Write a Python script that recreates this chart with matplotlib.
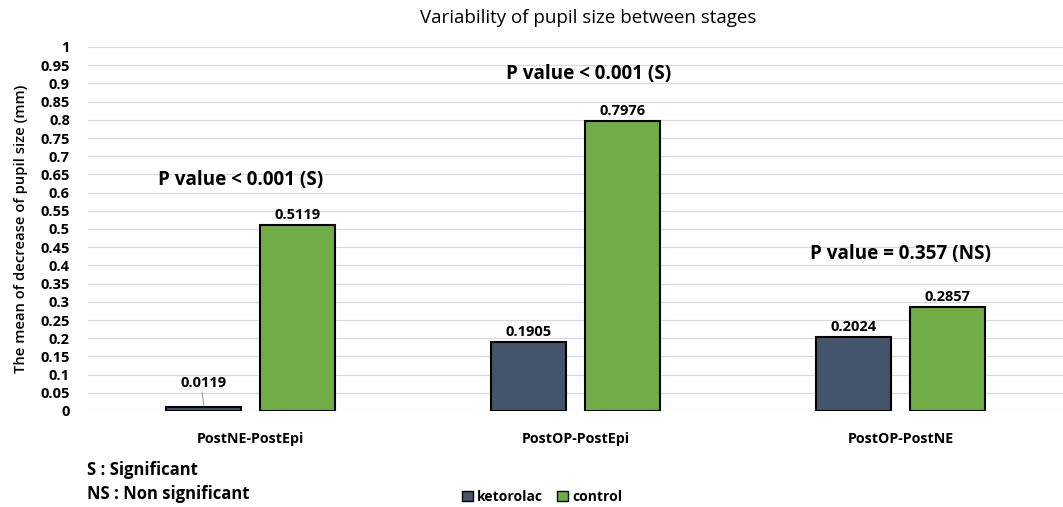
import matplotlib.pyplot as plt
import numpy as np
from matplotlib.patches import Patch

plt.rcParams["font.family"] = ["Open Sans", "DejaVu Sans"]

stages = ["PostNE-PostEpi", "PostOP-PostEpi", "PostOP-PostNE"]
ketorolac = [0.0119, 0.1905, 0.2024]
control = [0.5119, 0.7976, 0.2857]
p_labels = ["P value < 0.001 (S)", "P value < 0.001 (S)", "P value = 0.357 (NS)"]
p_heights = [0.635, 0.925, 0.43]
yticks = [round(v * 0.05, 2) for v in range(21)]

KET_COLOR = "#44546A"
CTRL_COLOR = "#70AD47"

fig = plt.figure(figsize=(10.63, 5.07), dpi=100)
ax = fig.add_axes([88 / 1063, 1 - 411 / 507, 975 / 1063, 364 / 507])

x = np.arange(len(stages))
width = 0.23
off = 0.144

ax.bar(x - off, ketorolac, width, color=KET_COLOR, edgecolor="black", linewidth=1.5, zorder=3)
ax.bar(x + off, control, width, color=CTRL_COLOR, edgecolor="black", linewidth=1.5, zorder=3)

p_shift = [-0.03, 0.04, 0.0]
for i in range(len(stages)):
    if ketorolac[i] < 0.05:
        ax.text(x[i] - off, ketorolac[i] + 0.045, f"{ketorolac[i]:.4f}", ha="center", va="bottom",
                fontsize=10.5, fontweight="bold")
        ax.plot([x[i] - off - 0.005, x[i] - off], [ketorolac[i] + 0.04, ketorolac[i] + 0.005],
                color="#999999", lw=0.7, zorder=4)
    else:
        ax.text(x[i] - off, ketorolac[i] + 0.008, f"{ketorolac[i]:.4f}", ha="center", va="bottom",
                fontsize=10.5, fontweight="bold")
    ax.text(x[i] + off, control[i] + 0.008, f"{control[i]:.4f}", ha="center", va="bottom",
            fontsize=10.5, fontweight="bold")
    ax.text(x[i] + p_shift[i], p_heights[i], p_labels[i], ha="center", va="center",
            fontsize=13.6, fontweight="bold")

ax.set_xlim(-0.5, 2.5)
ax.set_ylim(0, 1)
ax.set_yticks(yticks)
ax.set_yticklabels([f"{v:g}" for v in yticks], fontsize=10.5, fontweight="bold")
ax.set_xticks(x)
ax.set_xticklabels(stages, fontsize=10.3, fontweight="bold")
ax.tick_params(axis="y", length=0, pad=13)
ax.tick_params(axis="x", length=0, pad=15)
ax.grid(axis="y", color="#D9D9D9", linewidth=0.9, zorder=0)
for s in ax.spines.values():
    s.set_visible(False)

ax.set_ylabel("The mean of decrease of pupil size (mm)", fontsize=10.6, fontweight="semibold", labelpad=9)
fig.text(588 / 1063, 1 - 18 / 507, "Variability of pupil size between stages", ha="center", va="center",
         fontsize=13.5, fontweight="medium")

fig.text(87 / 1063, 1 - 470 / 507, "S : Significant", ha="left", va="center", fontsize=12, fontweight="bold")
fig.text(87 / 1063, 1 - 494 / 507, "NS : Non significant", ha="left", va="center", fontsize=12, fontweight="bold")

handles = [Patch(facecolor=KET_COLOR, edgecolor="black", label="ketorolac"),
           Patch(facecolor=CTRL_COLOR, edgecolor="black", label="control")]
fig.legend(handles=handles, loc="center", bbox_to_anchor=(542 / 1063, 1 - 497 / 507), ncol=2,
           frameon=False, prop={"size": 10, "weight": "bold"}, handlelength=0.8, handleheight=0.8,
           handletextpad=0.3, columnspacing=1.0)

fig.savefig("out.png", dpi=100)
